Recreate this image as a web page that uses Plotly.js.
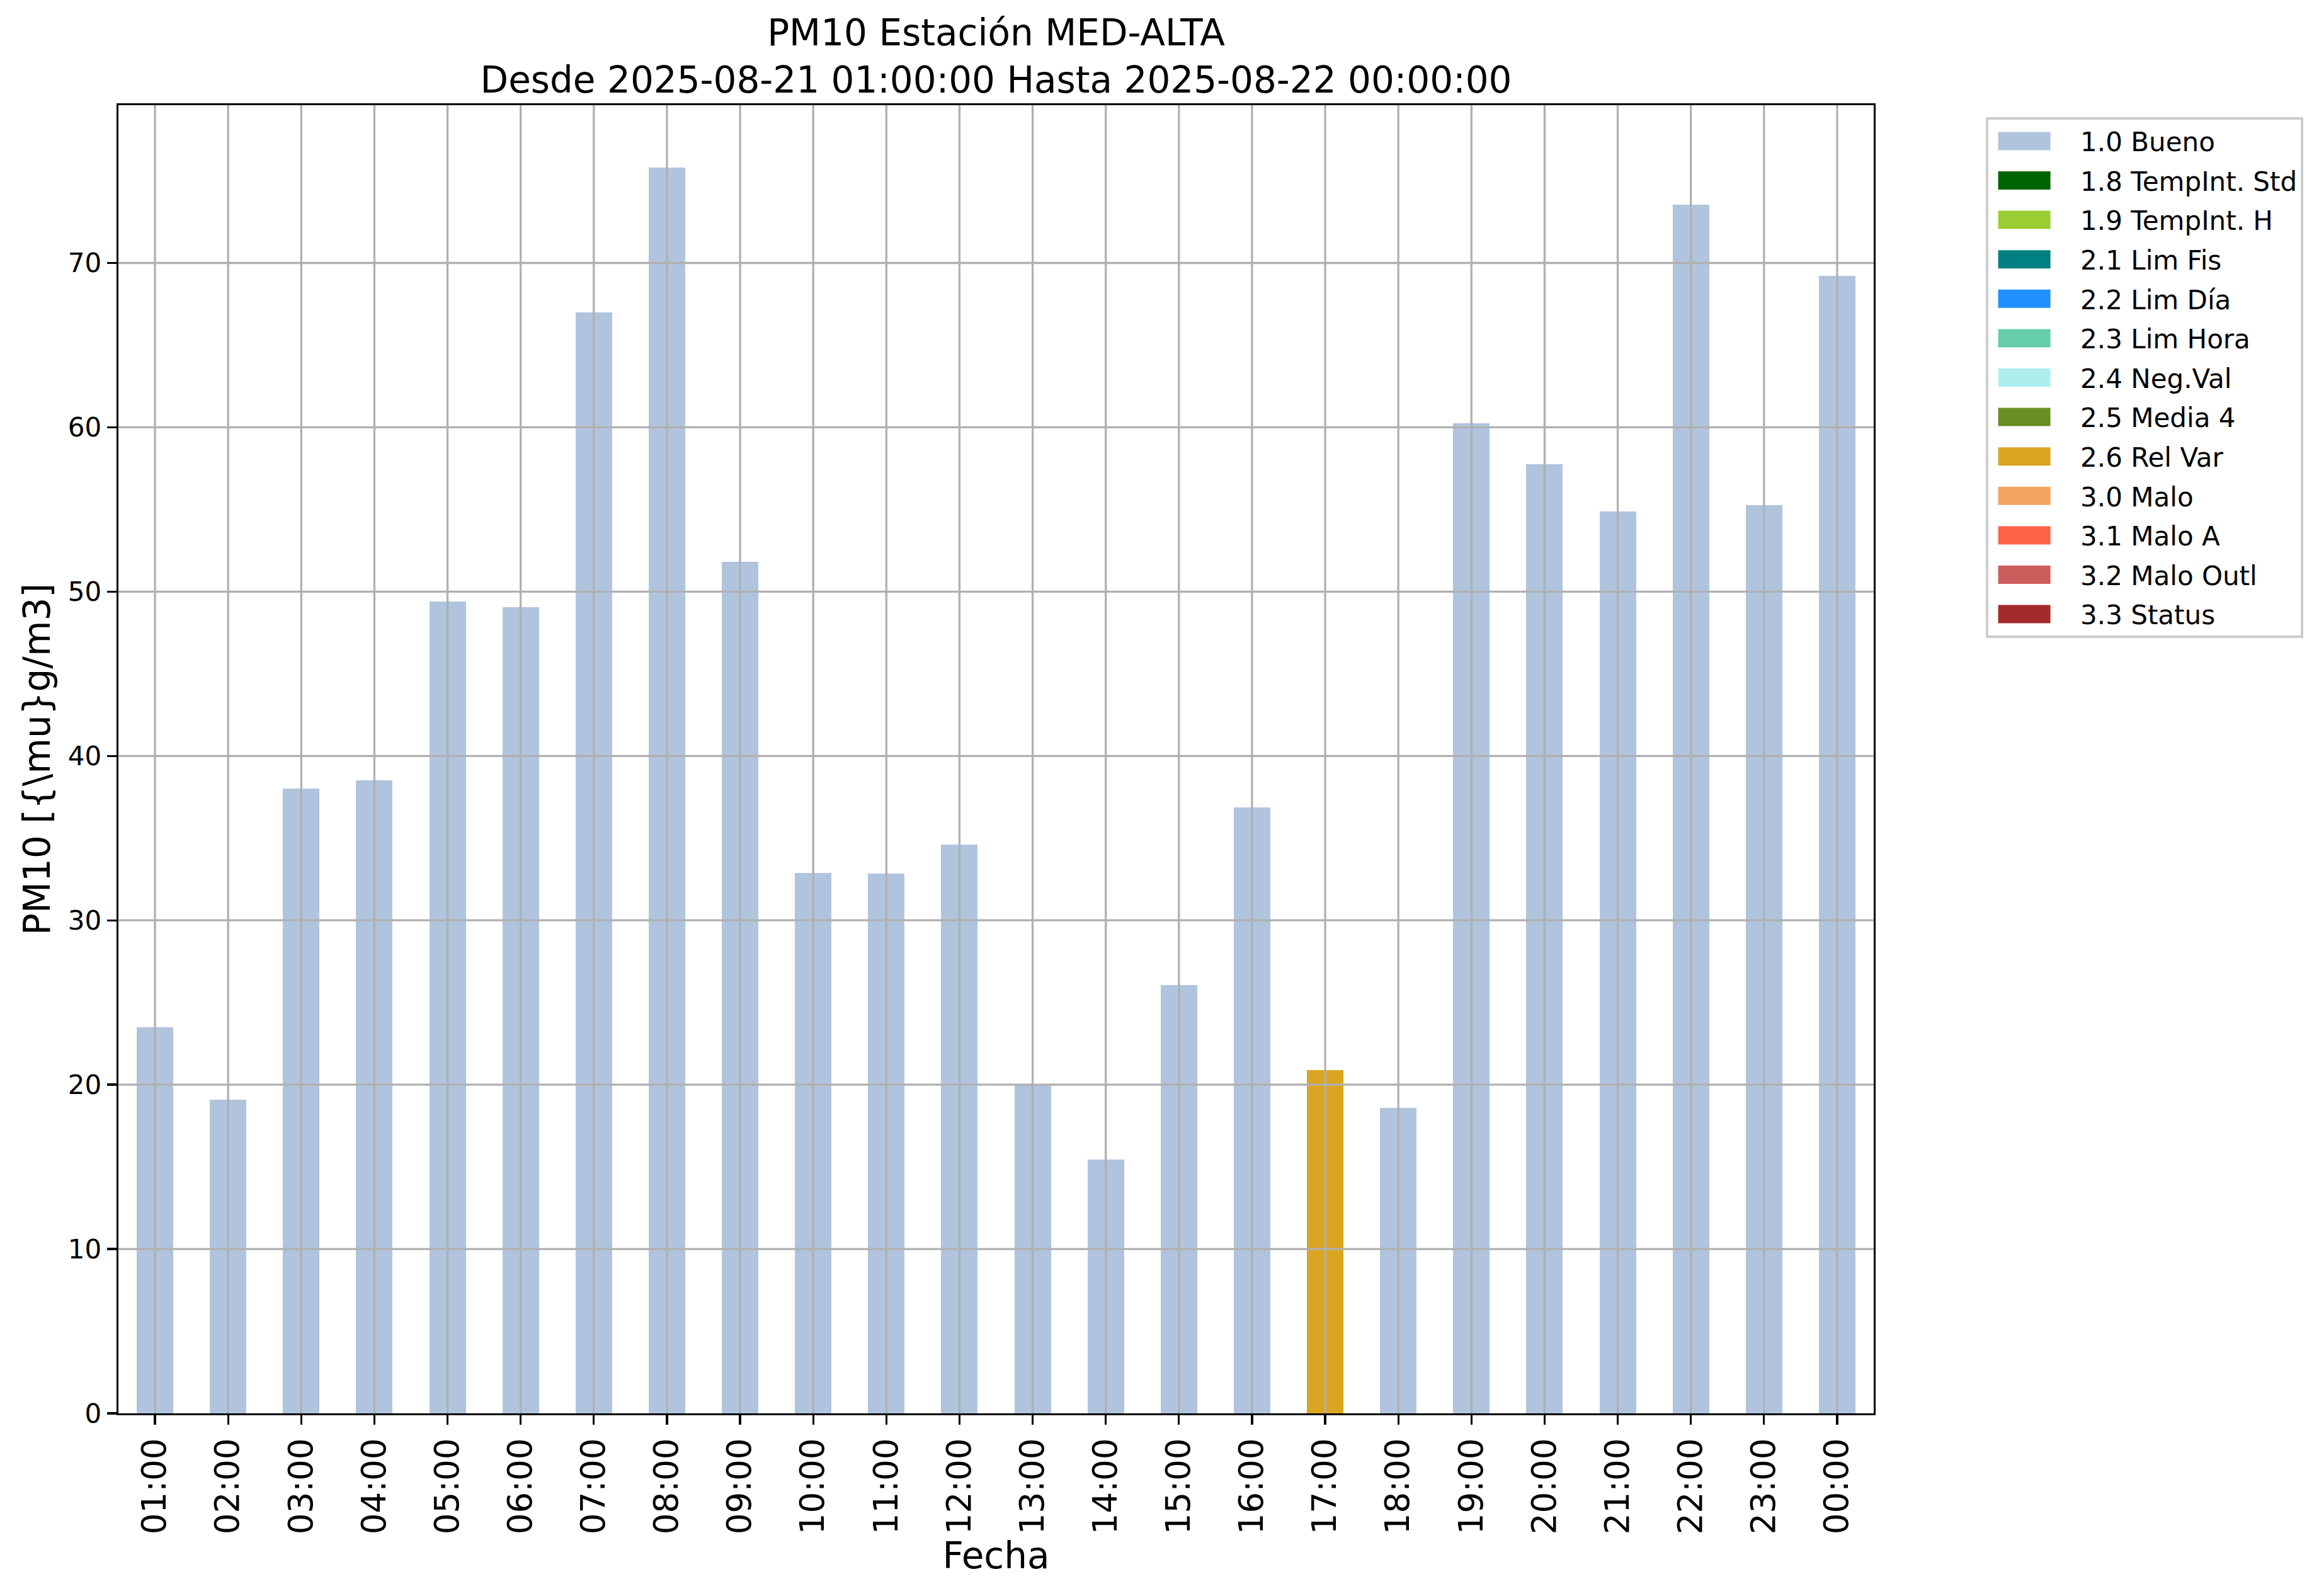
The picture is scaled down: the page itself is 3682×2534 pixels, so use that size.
<!DOCTYPE html>
<html>
<head>
<meta charset="utf-8">
<script src="https://cdn.plot.ly/plotly-3.0.1.min.js"></script>
<style>html,body{margin:0;padding:0;background:#fff;}</style>
</head>
<body>
<div id="chart" style="width:3682px;height:2534px;"></div>
<script>
// ---- data ----
const hours = ["01:00","02:00","03:00","04:00","05:00","06:00","07:00","08:00","09:00","10:00","11:00","12:00",
               "13:00","14:00","15:00","16:00","17:00","18:00","19:00","20:00","21:00","22:00","23:00","00:00"];
const pm10 = [23.5, 19.1, 38.0, 38.5, 49.4, 49.05, 67.0, 75.8, 51.8, 32.9, 32.85, 34.6,
              20.0, 15.45, 26.05, 36.85, 20.9, 18.6, 60.25, 57.75, 54.9, 73.55, 55.25, 69.2];
const hourFlags = ["1.0 Bueno","1.0 Bueno","1.0 Bueno","1.0 Bueno","1.0 Bueno","1.0 Bueno","1.0 Bueno","1.0 Bueno",
                   "1.0 Bueno","1.0 Bueno","1.0 Bueno","1.0 Bueno","1.0 Bueno","1.0 Bueno","1.0 Bueno","1.0 Bueno",
                   "2.6 Rel Var","1.0 Bueno","1.0 Bueno","1.0 Bueno","1.0 Bueno","1.0 Bueno","1.0 Bueno","1.0 Bueno"];
const flagNames = ["1.0 Bueno","1.8 TempInt. Std","1.9 TempInt. H","2.1 Lim Fis","2.2 Lim Día","2.3 Lim Hora",
                   "2.4 Neg.Val","2.5 Media 4","2.6 Rel Var","3.0 Malo","3.1 Malo A","3.2 Malo Outl","3.3 Status"];
const flagColors = ["#B0C4DE","#006400","#9ACD32","#008080","#1E90FF","#66CDAA",
                    "#AFEEEE","#6B8E23","#DAA520","#F4A460","#FF6347","#CD5C5C","#A52A2A"];
const yTicks = [0,10,20,30,40,50,60,70];
const titleText = "PM10 Estación MED-ALTA<br>Desde 2025-08-21 01:00:00 Hasta 2025-08-22 00:00:00";
const yTitle = "PM10 [{\\mu}g/m3]";
const xTitle = "Fecha";

// ---- build ----
const FONT = "DejaVu Sans";
const traces = flagNames.map((name, k) => ({
  type: "bar",
  name: name,
  x: hours,
  y: pm10.map((v, i) => hourFlags[i] === name ? v : null),
  width: 0.5,
  marker: {color: flagColors[k], line: {width: 0}},
  legendgroup: "g" + k,
  hoverinfo: "x+y+name"
}));

const gridColor = "#b0b0b0";
const gw = 3.3;
const shapes = [];
hours.forEach((h) => {
  shapes.push({type: "line", layer: "above", xref: "x", yref: "paper", x0: h, x1: h, y0: 0, y1: 1,
               line: {color: gridColor, width: gw}});
});
yTicks.filter(t => t > 0).forEach((t) => {
  shapes.push({type: "line", layer: "above", xref: "paper", yref: "y", x0: 0, x1: 1, y0: t, y1: t,
               line: {color: gridColor, width: gw}});
});

const layout = {
  width: 3682, height: 2534,
  margin: {l: 188, r: 707, t: 167, b: 290, pad: 0},
  paper_bgcolor: "#ffffff", plot_bgcolor: "#ffffff",
  font: {family: FONT, color: "#000000", size: 42},
  barmode: "stack",
  bargap: 0,
  title: {text: titleText, font: {family: FONT, size: 58, color: "#000"},
          xref: "paper", x: 0.5, xanchor: "center", yref: "paper", y: 1, yanchor: "bottom", pad: {b: 95}},
  xaxis: {
    type: "category", categoryorder: "array", categoryarray: hours,
    range: [-0.5, hours.length - 0.5],
    tickangle: -90, tickfont: {family: FONT, size: 53, color: "#000"},
    ticks: "outside", ticklen: 15, tickwidth: 3.3, tickcolor: "#000",
    showline: true, mirror: true, linecolor: "#000", linewidth: 3.3,
    showgrid: false, zeroline: false,
    title: {text: xTitle, font: {family: FONT, size: 58, color: "#000"}, standoff: 10},
    automargin: false
  },
  yaxis: {
    range: [0, 79.6], tickvals: yTicks,
    tickfont: {family: FONT, size: 42, color: "#000"},
    ticks: "outside", ticklen: 15, tickwidth: 3.3, tickcolor: "#000",
    showline: true, mirror: true, linecolor: "#000", linewidth: 3.3,
    showgrid: false, zeroline: false,
    title: {text: yTitle, font: {family: FONT, size: 58, color: "#000"}, standoff: 10},
    automargin: false
  },
  legend: {
    x: 1.0639, xanchor: "left", y: 0.9908, yanchor: "top",
    bgcolor: "#ffffff", bordercolor: "#cccccc", borderwidth: 4,
    font: {family: FONT, size: 42, color: "#000"},
    traceorder: "grouped", tracegroupgap: 5,
    itemwidth: 136
  },
  shapes: shapes,
  showlegend: true
};

function widenLegendSymbols() {
  // matplotlib-style wide rectangular legend patches
  const off = -16, hw = 41.5, hh = 14.5;
  document.querySelectorAll("#chart .legend .legendpoints path").forEach((p) => {
    p.setAttribute("d", `M${off - hw},${-hh}H${off + hw}V${hh}H${off - hw}Z`);
  });
}

Plotly.newPlot("chart", traces, layout, {displayModeBar: false, staticPlot: true}).then(widenLegendSymbols);
</script>
</body>
</html>
